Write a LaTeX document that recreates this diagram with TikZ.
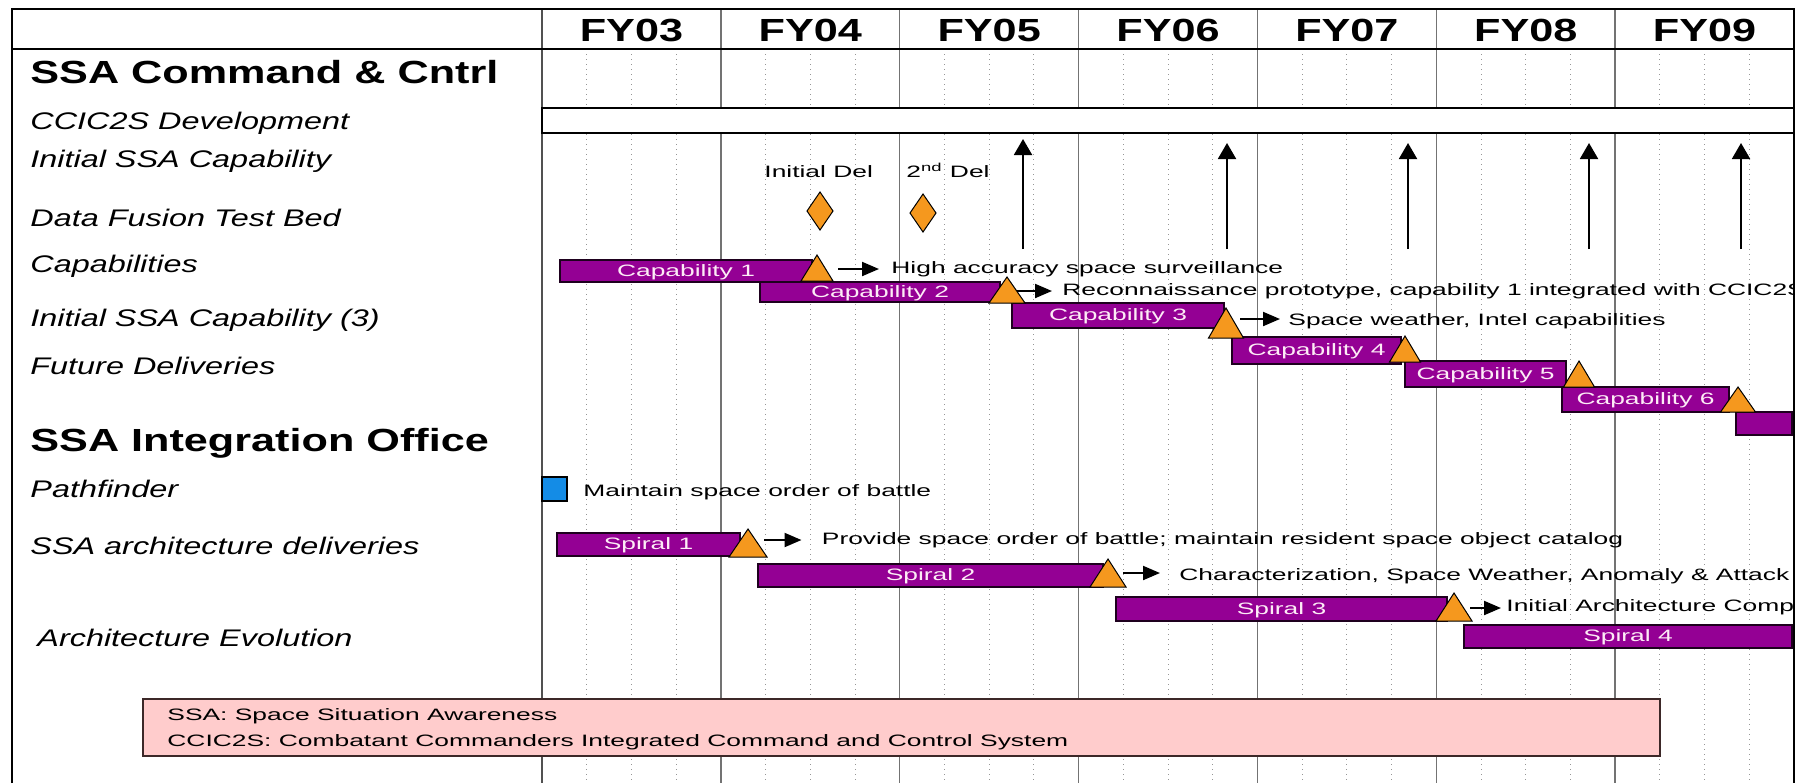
\documentclass[tikz,border=0pt]{standalone}
\usepackage{fontspec}
\setmainfont{Liberation Sans}
\newfontfamily\hdfont[FakeStretch=1.35]{Liberation Sans}
\newfontfamily\chfont[FakeStretch=1.6]{Liberation Sans}
\usetikzlibrary{arrows.meta}
\definecolor{barpurple}{RGB}{148,0,148}
\definecolor{msorange}{RGB}{245,152,30}
\definecolor{pfblue}{RGB}{20,140,230}
\definecolor{legpink}{RGB}{255,204,204}
\definecolor{legborder}{RGB}{60,40,40}
\definecolor{gridgray}{RGB}{115,115,115}
\definecolor{quartgray}{RGB}{150,150,150}
\tikzset{
  frameline/.style={line width=1pt, black},
  yearline/.style={line width=0.7pt, gridgray},
  qline/.style={line width=0.5pt, quartgray, dotted},
  bigtitle/.style={anchor=base west, inner sep=0pt, font=\hdfont\bfseries\fontsize{16}{18}\selectfont},
  rowlabel/.style={anchor=base west, inner sep=0pt, font=\hdfont\itshape\fontsize{12}{14}\selectfont},
  yearlabel/.style={anchor=base, inner sep=0pt, font=\hdfont\bfseries\fontsize{16}{18}\selectfont},
  chtext/.style={anchor=base west, inner sep=0pt, font=\chfont\fontsize{8.25}{10}\selectfont},
  barbox/.style={draw=black!80!barpurple, line width=0.6pt, fill=barpurple},
  barlabel/.style={inner sep=0pt, text=white!92!magenta, font=\chfont\fontsize{8.25}{10}\selectfont},
  mtri/.style={draw=black, line width=0.5pt, fill=msorange},
  conn/.style={line width=1pt, -{Triangle[length=8.5pt,width=7pt]}},
  milestone/.style={line width=1pt, -{Triangle[length=8pt,width=9pt]}},
}
\newcommand\gbar[6]{% x1,y1,x2,y2,label,name
  \path[barbox] (#1,#2) rectangle (#3,#4);
  \node[barlabel] (#6) at ({(#1+#3)/2},{(#2+#4)/2+1}) {#5};}
\newcommand\gtri[4]{% apex x, apex y, half width, base y
  \path[mtri] (#1,#2) -- ({#1+#3},#4) -- ({#1-#3},#4) -- cycle;}
\begin{document}
\begin{tikzpicture}[x=0.5pt,y=-0.5pt]
\useasboundingbox (0,0) rectangle (1807,783);
\fill[white] (0,0) rectangle (1807,783);
% quarter lines
\foreach \i in {0,...,6} \foreach \q in {1,2,3}
  \draw[qline] ({542+178.857*(\i+\q/4)},49) -- ++(0,734);
% year lines
\foreach \i in {1,...,6}
  \draw[yearline] ({542+178.857*\i},9) -- ++(0,774);
\draw[line width=0.8pt, gridgray!70!black] (542,9) -- (542,783);
% frame
\draw[frameline] (11.5,783) -- (11.5,9) -- (1794,9) -- (1794,783);
\draw[frameline] (11.5,49) -- (1794,49);
% year labels
\foreach \y [count=\k from 0] in {03,04,05,06,07,08,09}
  \node[yearlabel] (fy\y) at ({542+178.857*(\k+0.5)},41.5) {FY\y};
% left labels
\node[bigtitle] (t1) at (30,83) {SSA Command \& Cntrl};
\node[rowlabel] (l1) at (30,129) {CCIC2S Development};
\node[rowlabel] (l2) at (30,167) {Initial SSA Capability};
\node[rowlabel] (l3) at (30,226) {Data Fusion Test Bed};
\node[rowlabel] (l4) at (30,272) {Capabilities};
\node[rowlabel] (l5) at (30,326) {Initial SSA Capability (3)};
\node[rowlabel] (l6) at (30,374) {Future Deliveries};
\node[bigtitle] (t2) at (30,451) {SSA Integration Office};
\node[rowlabel] (l7) at (30,497) {Pathfinder};
\node[rowlabel] (l8) at (30,554) {SSA architecture deliveries};
\node[rowlabel] (l9) at (37,646) {Architecture Evolution};
% CCIC2S development bar
\draw[line width=1pt, fill=white] (542,108.3) rectangle (1794,133.3);
% milestone arrows
\foreach \mx/\mt [count=\m] in {1023/139,1227/143,1408/143,1589/143,1741/143}{
  \coordinate (mb\m) at (\mx,249);
  \coordinate (mt\m) at (\mx,\mt);
  \draw[milestone] (mb\m) -- (mt\m);
}
% data fusion test bed
\node[chtext] (d1) at (764,177) {Initial Del};
\node[chtext] (d2) at (906,177) {2\textsuperscript{nd} Del};
\path[mtri] (820,192) -- (833,211) -- (820,230) -- (807,211) -- cycle;
\path[mtri] (923,194) -- (936,213) -- (923,232) -- (910,213) -- cycle;
\begin{scope}
\clip (0,0) rectangle (1793,783);
% capabilities
\gbar{560}{260}{812}{282}{Capability 1}{c1}
\gbar{760}{282}{1000}{302}{Capability 2}{c2}
\gbar{1012}{303}{1224}{328}{Capability 3}{c3}
\gbar{1232}{337}{1401}{364}{Capability 4}{c4}
\gbar{1405}{361}{1566}{387}{Capability 5}{c5}
\gbar{1562}{387}{1729}{412}{Capability 6}{c6}
\path[barbox] (1736,412) rectangle (1792,435);
\gtri{817}{255}{16}{281}
\gtri{1007}{277}{18}{303}
\gtri{1226}{308}{17.5}{338}
\gtri{1405}{336}{15.5}{362}
\gtri{1579}{361}{15.5}{387}
\gtri{1738}{387}{17.5}{412}
\node[chtext] (h1) at (891,273) {High accuracy space surveillance};
\node[chtext] (h2) at (1062,295) {Reconnaissance prototype, capability 1 integrated with CCIC2S};
\node[chtext] (h3) at (1288,325) {Space weather, Intel capabilities};
\coordinate (a1) at (838,269);
\coordinate (a2) at (1017,291);
\coordinate (a3) at (1240,319);
\draw[conn, shorten >=6pt] (a1) -- (a1 -| h1.west);
\draw[conn, shorten >=5pt] (a2) -- (a2 -| h2.west);
\draw[conn, shorten >=4pt] (a3) -- (a3 -| h3.west);
% pathfinder
\filldraw[draw=black, fill=pfblue, line width=0.6pt] (542,477) rectangle (567,501);
\node[chtext] (pf) at (583,496) {Maintain space order of battle};
% spirals
\gbar{557}{533}{740}{556}{Spiral 1}{s1}
\gbar{758}{564}{1103}{587}{Spiral 2}{s2}
\gbar{1116}{597}{1447}{621}{Spiral 3}{s3}
\gbar{1464}{625}{1792}{648}{Spiral 4}{s4}
\gtri{748}{529}{19}{557}
\gtri{1108}{559}{18}{587}
\gtri{1454}{593}{18}{621}
\node[chtext] (p1) at (821.5,544) {Provide space order of battle; maintain resident space object catalog};
\node[chtext] (p2) at (1179,580) {Characterization, Space Weather, Anomaly \& Attack};
\node[chtext] (p3) at (1506,611.5) {Initial Architecture Comp};
\coordinate (b1) at (764,540);
\coordinate (b2) at (1123,573);
\coordinate (b3) at (1470,608);
\draw[conn, shorten >=10pt] (b1) -- (b1 -| p1.west);
\draw[conn, shorten >=9.5pt] (b2) -- (b2 -| p2.west);
\draw[conn, shorten >=2.5pt] (b3) -- (b3 -| p3.west);
\end{scope}
% legend
\draw[line width=1pt, draw=legborder, fill=legpink] (143,699) rectangle (1660,756);
\node[chtext] (g1) at (167,720) {SSA: Space Situation Awareness};
\node[chtext] (g2) at (167,746.5) {CCIC2S: Combatant Commanders Integrated Command and Control System};
\end{tikzpicture}
\end{document}
